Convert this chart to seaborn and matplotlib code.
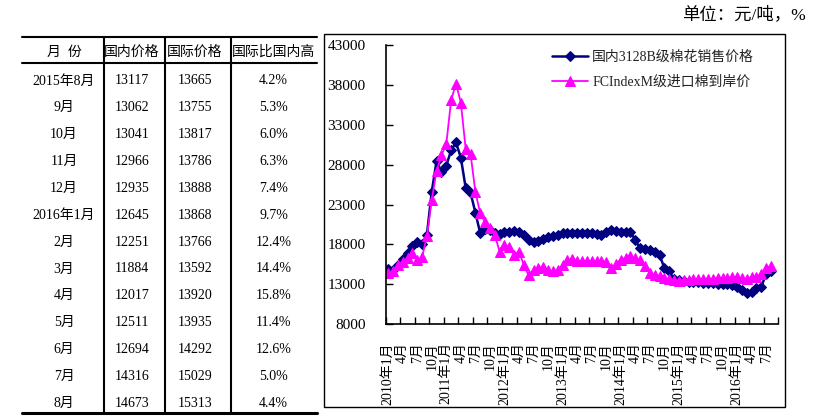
import matplotlib
matplotlib.use("Agg")
import matplotlib.pyplot as plt
import seaborn as sns
import numpy as np
import pandas as pd
from matplotlib.lines import Line2D
from matplotlib.patches import Rectangle
from matplotlib.font_manager import FontProperties

# ---------------- data ----------------
series_dom_name = "国内3128B级棉花销售价格"
series_intl_name = "FCIndexM级进口棉到岸价"

# monthly, 2010-01 .. 2016-08
dom_prices = [
    14900, 14800, 15400, 16200, 16900, 17800, 18300, 18100, 19200, 24600, 28500, 27100,
    27900, 29800, 30800, 28900, 25100, 24500, 22000, 19400, 19900, 19800, 19400, 19300,
    19500, 19600, 19700, 19500, 19200, 18600, 18300, 18400, 18700, 18900, 19000, 19200,
    19400, 19400, 19400, 19400, 19400, 19400, 19400, 19300, 19200, 19600, 19800, 19700,
    19600, 19600, 19600, 18500, 17500, 17400, 17300, 17100, 16700, 15000, 14600, 13600,
    13500, 13400, 13300, 13300, 13250, 13200, 13150, 13117, 13062, 13041, 12966, 12935,
    12645, 12251, 11884, 12017, 12511, 12694, 14316, 14673,
]
intl_prices = [
    14400, 14600, 15400, 15800, 16300, 16900, 16000, 16400, 19000, 23600, 27200, 29200,
    30600, 36100, 38200, 35800, 30000, 29400, 24600, 21900, 20800, 20000, 19200, 17100,
    17900, 17700, 16700, 17100, 15400, 14100, 14800, 15000, 15200, 14800, 14600, 14800,
    15400, 16000, 16200, 15900, 15900, 15900, 15900, 15900, 15900, 15800, 15000, 15500,
    16100, 16300, 16500, 16300, 16000, 15300, 14400, 14100, 14000, 13800, 13600, 13500,
    13400, 13500, 13500, 13600, 13600, 13600, 13600, 13665, 13755, 13817, 13786, 13888,
    13868, 13766, 13592, 13920, 13935, 14292, 15029, 15313,
]
x_tick_labels = [
    "2010年1月", "4月", "7月", "10月",
    "2011年1月", "4月", "7月", "10月",
    "2012年1月", "4月", "7月", "10月",
    "2013年1月", "4月", "7月", "10月",
    "2014年1月", "4月", "7月", "10月",
    "2015年1月", "4月", "7月", "10月",
    "2016年1月", "4月", "7月",
]
y_ticks = [8000, 13000, 18000, 23000, 28000, 33000, 38000, 43000]

table_header = ["月  份", "国内价格", "国际价格", "国际比国内高"]
table_months = ["2015年8月", "9月", "10月", "11月", "12月", "2016年1月", "2月",
                "3月", "4月", "5月", "6月", "7月", "8月"]
table_dom = ["13117", "13062", "13041", "12966", "12935", "12645", "12251",
             "11884", "12017", "12511", "12694", "14316", "14673"]
table_intl = ["13665", "13755", "13817", "13786", "13888", "13868", "13766",
              "13592", "13920", "13935", "14292", "15029", "15313"]
table_pct = ["4.2%", "5.3%", "6.0%", "6.3%", "7.4%", "9.7%", "12.4%",
             "14.4%", "15.8%", "11.4%", "12.6%", "5.0%", "4.4%"]
unit_text = "单位：元/吨，%"

# ---------------- style ----------------
sns.set_theme(style="white")
FAM = ["Liberation Serif", "Noto Sans CJK SC"]
plt.rcParams["font.family"] = FAM

W, H = 813, 419
def fx(px):
    return px / W
def fy(py):
    return 1 - py / H

fig = plt.figure(figsize=(W / 100, H / 100), dpi=100)
fig.patch.set_facecolor("white")

# ---------------- chart ----------------
L, R, T, B = 385.7, 778.3, 45.3, 324.0
ax = fig.add_axes([fx(L), fy(B), (R - L) / W, (B - T) / H])
ax.set_facecolor("white")

df = pd.DataFrame({
    "idx": np.arange(len(dom_prices)),
    "dom": dom_prices,
    "intl": intl_prices,
})
sns.lineplot(data=df, x="idx", y="dom", color="#000080", marker="D",
             markersize=5, markeredgecolor="#000080", markerfacecolor="#000080",
             linewidth=1.8, label=series_dom_name, ax=ax)
sns.lineplot(data=df, x="idx", y="intl", color="#FF00FF", marker="^",
             markersize=6.5, markeredgecolor="#FF00FF", markerfacecolor="#FF00FF",
             linewidth=1.3, label=series_intl_name, ax=ax)

ax.set_xlim(-0.5, 80.5)
ax.set_ylim(8000, 43000)
ax.set_yticks(y_ticks)
ax.set_yticklabels([str(v) for v in y_ticks])
ax.set_xticks(np.arange(0, 3 * len(x_tick_labels), 3))
ax.set_xticklabels(x_tick_labels, rotation=90)
ax.set_xticks(np.arange(-0.5, 81, 3), minor=True)
ax.set_xlabel("")
ax.set_ylabel("")

ax.tick_params(axis="x", which="major", length=0, pad=13, labelsize=10,
               labelcolor="black", bottom=True)
ax.tick_params(axis="x", which="minor", length=5, width=1, direction="in",
               color="black", bottom=True)
ax.tick_params(axis="y", which="major", length=5, width=1, direction="in",
               color="black", pad=14.5, labelsize=11, labelcolor="black", left=True)

for s in ["top", "right"]:
    ax.spines[s].set_visible(False)
for s in ["left", "bottom"]:
    ax.spines[s].set_color("black")
    ax.spines[s].set_linewidth(1.2)

leg = ax.legend(loc="upper left", bbox_to_anchor=(fx(552), fy(51)),
                bbox_transform=fig.transFigure, frameon=False,
                prop=FontProperties(family=FAM, size=10),
                handlelength=2.6, handletextpad=0.3, borderpad=0,
                borderaxespad=0, labelspacing=0.85)
for t in leg.get_texts():
    t.set_color("#222222")

# chart frame
fig.add_artist(Rectangle((fx(324), fy(407)), (785 - 324) / W, (407 - 34) / H,
                         transform=fig.transFigure, fill=False,
                         edgecolor="black", linewidth=1.0))

# ---------------- table ----------------
def hline(y, x0, x1, lw):
    fig.add_artist(Line2D([fx(x0), fx(x1)], [fy(y), fy(y)],
                          transform=fig.transFigure, color="black", linewidth=lw))
def vline(x, y0, y1, lw):
    fig.add_artist(Line2D([fx(x), fx(x)], [fy(y0), fy(y1)],
                          transform=fig.transFigure, color="black", linewidth=lw))

tab_l, tab_r, tab_top, tab_head, tab_bot = 22, 317, 36.7, 63.3, 413
hline(tab_top, tab_l, tab_r, 1.5)
hline(tab_head, tab_l, tab_r, 1.5)
hline(tab_bot, tab_l, tab_r, 2.2)
for xv in [104.3, 165.3, 231.0]:
    vline(xv, tab_top, tab_bot, 1.5)

col_x = [64, 131.7, 195, 273.5]
tfont = dict(family=FAM, size=10, color="black", ha="center", va="center")
for cx, txt in zip(col_x, table_header):
    fig.text(fx(cx), fy(52), txt, **tfont)
for k in range(len(table_months)):
    yy = 81 + 26.85 * k
    for cx, col in zip(col_x, [table_months, table_dom, table_intl, table_pct]):
        fig.text(fx(cx), fy(yy), col[k], **tfont)

fig.text(fx(806), fy(15), unit_text, family=FAM, size=12.5, color="black",
         ha="right", va="center")

fig.savefig("out.png", dpi=100, facecolor="white")
